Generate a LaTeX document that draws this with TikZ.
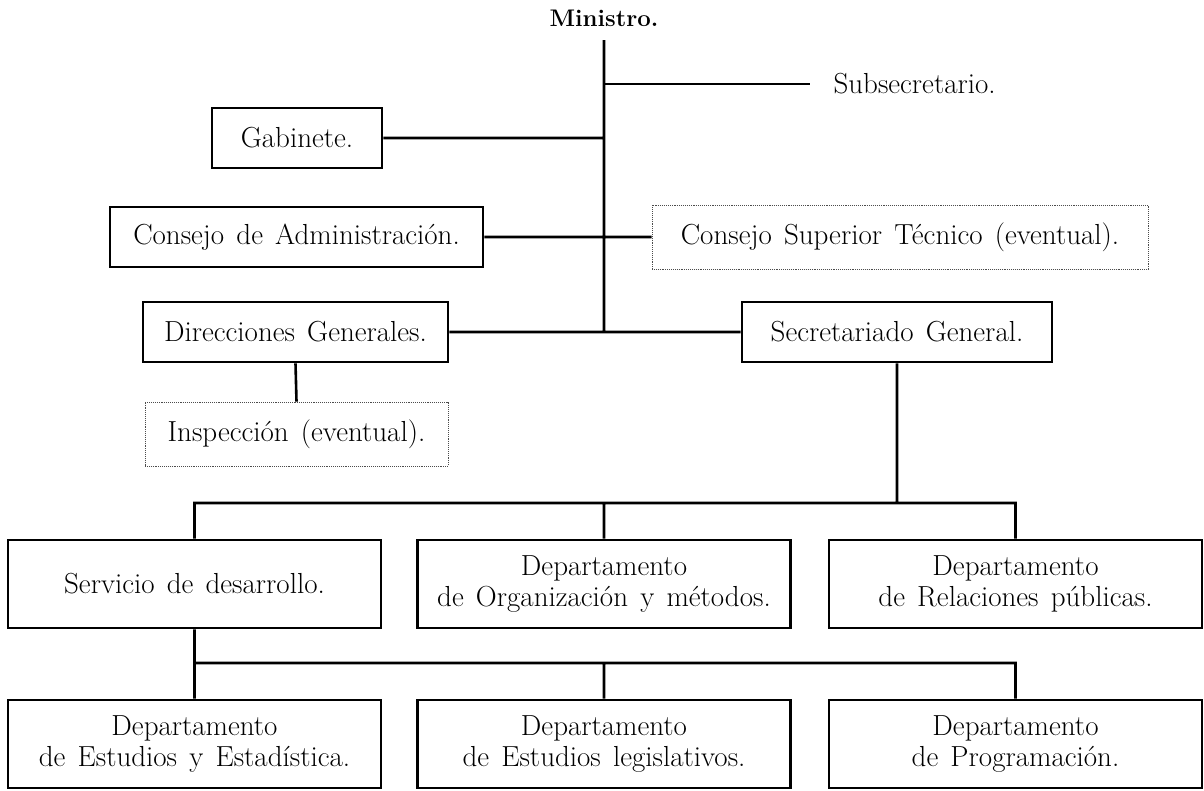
\documentclass[tikz,border=0pt]{standalone}
\usepackage{amsmath}
\usetikzlibrary{calc}
\newcommand\orgfont{\fontsize{29}{31}\selectfont\spaceskip=0.42em\relax}

\begin{document}
\begin{tikzpicture}[x=1pt,y=-1pt,
    unit/.style={draw,line width=2.6pt,inner sep=0pt,align=center,minimum height=60pt,font=\orgfont},
    eventual/.style={draw,densely dotted,line width=.9pt,black!70,text=black,inner sep=0pt,minimum height=64pt,font=\orgfont},
    dept/.style={unit,minimum width=373pt,minimum height=88pt},
    link/.style={line width=2.6pt}]
\useasboundingbox (0,0) rectangle (1204,790);
% cabecera
\node[font=\fontsize{24}{28}\selectfont\bfseries] (min) at (604,18) {Ministro.};
\coordinate (top) at (604,40);
\node[anchor=west,font=\orgfont] (sub) at (830,84) {Subsecretario.};
% organos del ministro
\node[unit,minimum width=170pt] (gab) at (297,138) {Gabinete.};
\node[unit,minimum width=373pt] (cons) at (296.5,237) {Consejo de Administraci\'on.};
\node[eventual,minimum width=496pt] (tec) at (900,237) {Consejo Superior T\'ecnico (eventual).};
\node[unit,minimum width=305pt] (dir) at (295.5,332) {Direcciones Generales.};
\node[unit,minimum width=310pt] (sec) at (897,332) {Secretariado General.};
\node[eventual,minimum width=303pt] (insp) at (296.5,434) {Inspecci\'on (eventual).};
% departamentos
\coordinate (bara) at (0,503);
\coordinate (barb) at (0,663);
\node[dept] (serv) at (194.5,584) {Servicio de desarrollo.};
\node[dept] (org) at (604,584) {Departamento\\de Organizaci\'on y m\'etodos.};
\node[dept] (rel) at (1015.5,584) {Departamento\\de Relaciones p\'ublicas.};
\node[dept] (est) at (194.5,744) {Departamento\\de Estudios y Estad\'istica.};
\node[dept] (leg) at (604,744) {Departamento\\de Estudios legislativos.};
\node[dept] (prog) at (1015.5,744) {Departamento\\de Programaci\'on.};
\draw[link]
        (top) -- (top |- dir)
        (gab.east) -- (top |- gab)
        (cons.east) -- (tec.west)
        (dir.east) -- (sec.west)
        (dir.south) -- (insp.north)
        (sec.south) -- (sec.south |- bara)
        (serv.north) |- (rel.north |- bara) -- (rel.north)
        (org.north) -- (org.north |- bara)
        (serv.south) -- (est.north)
        (est.north |- barb) -| (prog.north)
        (leg.north) -- (leg.north |- barb)
    ;
\draw[link,shorten >=20pt] (top |- sub) -- (sub.west);
\end{tikzpicture}
\end{document}
